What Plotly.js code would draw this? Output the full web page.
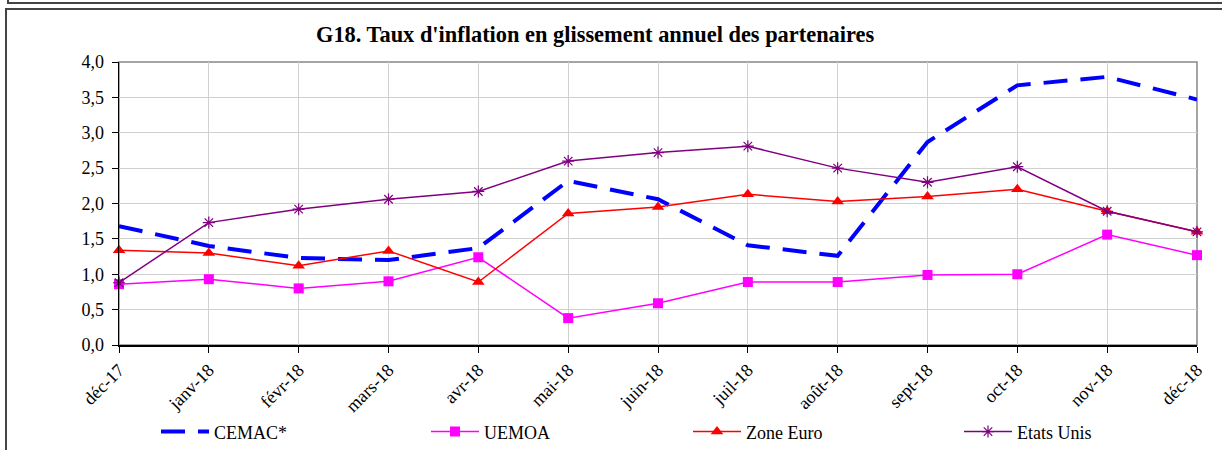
<!DOCTYPE html>
<html>
<head>
<meta charset="utf-8">
<script src="https://cdn.plot.ly/plotly-3.0.1.min.js"></script>
<style>
  html, body { margin: 0; padding: 0; background: #fff; }
  #wrap { position: relative; width: 1222px; height: 450px; overflow: hidden; }
  #chart { position: absolute; left: 0; top: 0; width: 1222px; height: 450px; }
  #topbox { position: absolute; left: 7px; top: -10px; width: 1230px; height: 12px;
            border-left: 2px solid #444; border-bottom: 2px solid #444; }
  #mainbox { position: absolute; left: 5px; top: 8px; width: 1230px; height: 460px;
             border-left: 2px solid #444; border-top: 2px solid #444; }
</style>
</head>
<body>
<div id="wrap">
  <div id="chart"></div>
  <div id="topbox"></div>
  <div id="mainbox"></div>
</div>
<script>
const months = ["déc-17","janv-18","févr-18","mars-18","avr-18","mai-18","juin-18",
                "juil-18","août-18","sept-18","oct-18","nov-18","déc-18"];
const cemac     = [1.68, 1.40, 1.23, 1.20, 1.37, 2.32, 2.06, 1.41, 1.26, 2.87, 3.67, 3.79, 3.47];
const uemoa     = [0.86, 0.93, 0.80, 0.90, 1.24, 0.38, 0.59, 0.89, 0.89, 0.99, 1.00, 1.56, 1.27];
const zoneEuro  = [1.34, 1.30, 1.12, 1.33, 0.89, 1.86, 1.95, 2.13, 2.03, 2.10, 2.20, 1.89, 1.60];
const etatsUnis = [0.88, 1.73, 1.92, 2.06, 2.17, 2.60, 2.72, 2.81, 2.50, 2.30, 2.52, 1.89, 1.60];
const yTicks = [0, 0.5, 1, 1.5, 2, 2.5, 3, 3.5, 4];

const serif = "'Liberation Serif', 'Times New Roman', serif";
const idx = months.map((m, i) => i);

const traces = [
  { x: idx, y: cemac, name: "CEMAC*", mode: "lines", legend: "legend",
    line: { color: "#0000FF", width: 4, dash: "24px,13px" }, cliponaxis: false },
  { x: idx, y: uemoa, name: "UEMOA", mode: "lines+markers", legend: "legend2",
    line: { color: "#FF00FF", width: 1.5 },
    marker: { symbol: "square", size: 10, color: "#FF00FF" }, cliponaxis: false },
  { x: idx, y: zoneEuro, name: "Zone Euro", mode: "lines+markers", legend: "legend3",
    line: { color: "#FF0000", width: 1.5 },
    marker: { symbol: "triangle-up", size: 11, color: "#FF0000" }, cliponaxis: false },
  { x: idx, y: etatsUnis, name: "Etats Unis", mode: "lines+markers", legend: "legend4",
    line: { color: "#800080", width: 1.5 },
    marker: { symbol: "asterisk-open", size: 10, color: "#800080", line: { color: "#800080", width: 1.2 } },
    cliponaxis: false }
];

function leg(xpx) {
  return { orientation: "h", x: (xpx - 119) / 1078, xanchor: "left",
           y: -0.307, yanchor: "middle",
           font: { family: serif, size: 18, color: "#000" },
           itemwidth: 48, bgcolor: "rgba(0,0,0,0)", borderwidth: 0 };
}

const layout = {
  width: 1222, height: 450,
  margin: { l: 119, r: 25, t: 62, b: 105, autoexpand: false },
  paper_bgcolor: "#fff", plot_bgcolor: "#fff",
  separators: ", ",
  font: { family: serif, size: 18, color: "#000" },
  title: { text: "<b>G18. Taux d'inflation en glissement annuel des partenaires</b>",
           font: { family: serif, size: 22.4, color: "#000" },
           x: 0.487, xanchor: "center", y: 0.925, yanchor: "middle" },
  showlegend: true,
  legend: leg(156),
  legend2: leg(426),
  legend3: leg(688),
  legend4: leg(959),
  xaxis: {
    type: "linear", range: [0, 12], tickmode: "array", tickvals: idx, ticktext: months,
    tickangle: -45, showgrid: true, gridcolor: "#d0d0d0", gridwidth: 1,
    showline: true, linecolor: "#000", linewidth: 1.5, automargin: false,
    ticks: "outside", ticklen: 6, tickcolor: "#000", tickwidth: 1,
    zeroline: false, tickfont: { family: serif, size: 18, color: "#000" }, fixedrange: true
  },
  yaxis: {
    range: [0, 4], tickmode: "array", tickvals: yTicks, tickformat: ".1f",
    showgrid: true, gridcolor: "#d0d0d0", gridwidth: 1,
    showline: true, linecolor: "#000", linewidth: 1.5, automargin: false,
    ticks: "outside", ticklen: 6, tickcolor: "#000", tickwidth: 1, ticklabelstandoff: 4,
    zeroline: false, tickfont: { family: serif, size: 18, color: "#000" }, fixedrange: true
  },
  shapes: [
    { type: "rect", xref: "paper", yref: "paper", x0: 0, x1: 1, y0: 0, y1: 1,
      line: { color: "#888", width: 1.5 }, layer: "below" }
  ]
};

Plotly.newPlot("chart", traces, layout, { displayModeBar: false, staticPlot: true });
</script>
</body>
</html>
